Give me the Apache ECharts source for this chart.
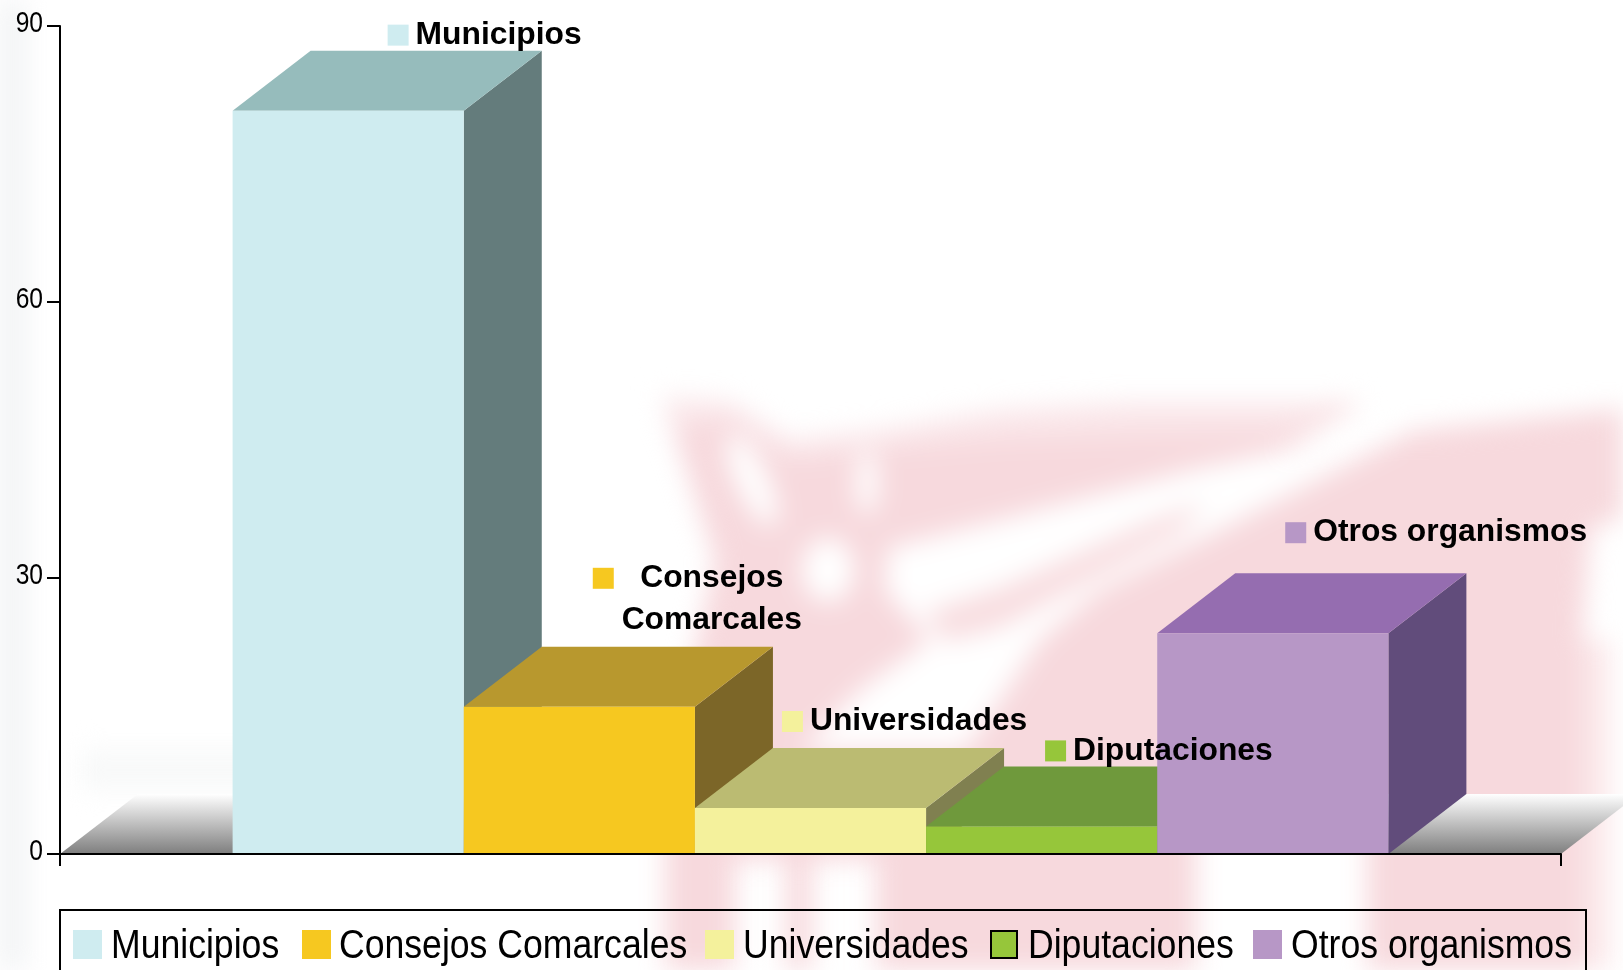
<!DOCTYPE html>
<html>
<head>
<meta charset="utf-8">
<title>Municipios</title>
<script src="https://cdn.jsdelivr.net/npm/echarts@6/dist/echarts.min.js"></script>
<style>
html, body { margin: 0; padding: 0; background: #fff; overflow: hidden; }
#wm { position: absolute; left: 0; top: 0; width: 1623px; height: 970px; overflow: hidden; }
#wm svg { filter: blur(13px); }
#main { position: absolute; left: 0; top: 0; width: 1623px; height: 970px; }
</style>
</head>
<body>
<!-- marca de agua del fondo -->
<div id="wm">
<svg width="1623" height="970" viewBox="0 0 1623 970">
	<rect x="-40" y="-30" width="65" height="1030" fill="#f1f3f4"/>
	<rect x="80" y="750" width="320" height="40" fill="#f8f9f9"/>
	<polygon fill="#f7d9dd" points="662,398 730,402 790,440 880,430 1000,410 1122,403 1363,403 1285,445 1420,430 1660,405 1660,500 1590,530 1582,640 1582,1000 1367,1000 1367,650 1196,650 1196,1000 876,1000 876,860 812,860 812,1000 786,1000 786,860 735,860 735,1000 665,1000 665,800 695,650 715,560 680,450"/>
	<rect x="1582" y="640" width="28" height="360" fill="#fbe8ea"/>
	<polygon fill="#fff" fill-opacity="0.35" points="650,380 1380,380 1290,430 1000,440 880,450 790,460 730,420 670,430"/>
	<!-- franjas blancas -->
	<polygon fill="#fff" points="888,548 1000,520 1200,468 1350,436 1425,425 1200,540 1100,590 1040,640 990,715 965,750 800,750 860,690 930,640 885,590"/>
	<polygon fill="#f8dde0" points="925,612 1000,588 1150,522 1205,502 1180,532 1000,628 945,642"/>
	<ellipse cx="752" cy="480" rx="16" ry="50" fill="#fff" transform="rotate(-25 752 480)"/>
	<ellipse cx="867" cy="483" rx="11" ry="32" fill="#fff"/>
	<ellipse cx="828" cy="570" rx="26" ry="32" fill="#fff"/>
</svg>
</div>
<div id="main"></div>
<script>
var categories = ['Municipios', 'Consejos Comarcales', 'Universidades', 'Diputaciones', 'Otros organismos'];
var values = [80.8, 16, 5, 3, 24];
var yTicks = [0, 30, 60, 90];
var labelTexts = ['Municipios', 'Consejos\nComarcales', 'Universidades', 'Diputaciones', 'Otros organismos'];

// colores de cada cara
var frontColors = ['#cfecf0', '#f6c820', '#f4f19c', '#96c63a', '#b797c6'];
var topColors = ['#96bcbc', '#b8982e', '#bbbb72', '#6f993c', '#956db0'];
var sideColors = ['#647c7c', '#7c6628', '#808050', '#5e7d30', '#614c7b'];
// desplazamiento de la etiqueta respecto a la esquina de la barra
var labelDx = [155, 129, 87, 119, 128];
var labelDy = [-86, -139, -97, -86, -111];
// leyenda
var legendIconX = [73, 302, 705, 990, 1253];
var legendTextX = [111, 339, 743, 1028, 1291];

var depthX = 78;
var depthY = 60;
var barShare = 0.154;
var narrowFont = '"Liberation Sans", Arial, sans-serif';

var myChart = echarts.init(document.getElementById('main'), null, { renderer: 'canvas' });

function renderFloor(params, api) {
	var o = api.coord([0, 0]);
	var band = api.size([1, 0])[0];
	var l = o[0] - band / 2, r = o[0] + band / 2, y = o[1];
	var kids = [{
		type: 'polygon',
		shape: { points: [[l, y], [r, y], [r + depthX, y - depthY], [l + depthX, y - depthY]] },
		style: {
			fill: new echarts.graphic.LinearGradient(0, 0, 0, 1, [
				{ offset: 0, color: '#ffffff' },
				{ offset: 1, color: '#7e7e7e' }
			])
		}
	}];
	// etiquetas del eje, estrechas como en el original
	for (var t = 0; t < yTicks.length; t++) {
		kids.push({
			type: 'text',
			x: l - 17,
			y: api.coord([0, yTicks[t]])[1] - 2,
			scaleX: 0.82,
			style: {
				text: String(yTicks[t]),
				fill: '#000',
				font: '30px ' + narrowFont,
				align: 'right',
				verticalAlign: 'middle'
			}
		});
	}
	return { type: 'group', children: kids };
}

function renderBar(params, api) {
	var i = params.seriesIndex - 1;
	var band = api.size([1, 0])[0];
	var w = band * barShare;
	var c = api.coord([0, api.value(1)]);
	var base = api.coord([0, 0])[1];
	var x = c[0] - w * categories.length / 2 + i * w;
	var y = c[1];
	var sx = x + labelDx[i], sy = y + labelDy[i];
	var lines = labelTexts[i].split('\n').length;
	var multi = lines > 1;
	return {
		type: 'group',
		children: [
			{ type: 'polygon', shape: { points: [[x + w, y], [x + w + depthX, y - depthY], [x + w + depthX, base - depthY], [x + w, base]] }, style: { fill: sideColors[i] } },
			{ type: 'polygon', shape: { points: [[x, y], [x + w, y], [x + w + depthX, y - depthY], [x + depthX, y - depthY]] }, style: { fill: topColors[i] } },
			{ type: 'rect', shape: { x: x, y: y, width: w, height: base - y }, style: { fill: frontColors[i] } },
			{ type: 'rect', z2: 50, shape: { x: sx, y: sy, width: 21, height: 21 }, style: { fill: frontColors[i] } },
			{
				type: 'text', z2: 50,
				x: multi ? sx + 119 : sx + 28,
				y: sy + 10.5 + (lines - 1) * 21,
				style: {
					text: labelTexts[i],
					fill: '#000',
					font: 'bold 31.8px "Liberation Sans", Arial, sans-serif',
					lineHeight: 42,
					align: multi ? 'center' : 'left',
					verticalAlign: 'middle'
				}
			}
		]
	};
}

var series = [{
	type: 'custom',
	name: 'piso',
	renderItem: renderFloor,
	data: [[0, 0]],
	silent: true
}];
for (var k = 0; k < categories.length; k++) {
	series.push({
		type: 'custom',
		name: categories[k],
		renderItem: renderBar,
		itemStyle: { color: frontColors[k] },
		encode: { x: 0, y: 1 },
		data: [[0, values[k]]]
	});
}

// la leyenda va a mano porque no hay fuente estrecha instalada
var legendGraphic = [{
	type: 'rect',
	shape: { x: 60, y: 910, width: 1526, height: 100 },
	style: { fill: 'transparent', stroke: '#000', lineWidth: 2 }
}];
for (var j = 0; j < categories.length; j++) {
	var dip = categories[j] == 'Diputaciones';
	legendGraphic.push({
		type: 'rect',
		shape: dip ? { x: legendIconX[j] + 1, y: 931, width: 26, height: 27 } : { x: legendIconX[j], y: 930, width: 29, height: 29 },
		style: dip ? { fill: frontColors[j], stroke: '#000', lineWidth: 2 } : { fill: frontColors[j] }
	});
	legendGraphic.push({
		type: 'text',
		x: legendTextX[j],
		y: 947,
		scaleX: 0.89,
		style: {
			text: categories[j],
			fill: '#000',
			font: '40px ' + narrowFont,
			verticalAlign: 'middle'
		}
	});
}

var option = {
	animation: false,
	backgroundColor: 'transparent',
	grid: { left: 60, right: 62, top: 26, bottom: 116, containLabel: false },
	graphic: legendGraphic,
	xAxis: {
		type: 'category',
		data: [''],
		z: 10,
		axisLine: { lineStyle: { color: '#000', width: 2 } },
		axisTick: { show: true, interval: 0, length: 12, lineStyle: { color: '#000', width: 2 } },
		axisLabel: { show: false }
	},
	yAxis: {
		type: 'value',
		min: yTicks[0],
		max: yTicks[yTicks.length - 1],
		interval: 30,
		z: 10,
		axisLine: { show: true, lineStyle: { color: '#000', width: 2 } },
		axisTick: { show: true, length: 13, lineStyle: { color: '#000', width: 2 } },
		splitLine: { show: false },
		axisLabel: { show: false }
	},
	series: series
};
myChart.setOption(option);
</script>
</body>
</html>
